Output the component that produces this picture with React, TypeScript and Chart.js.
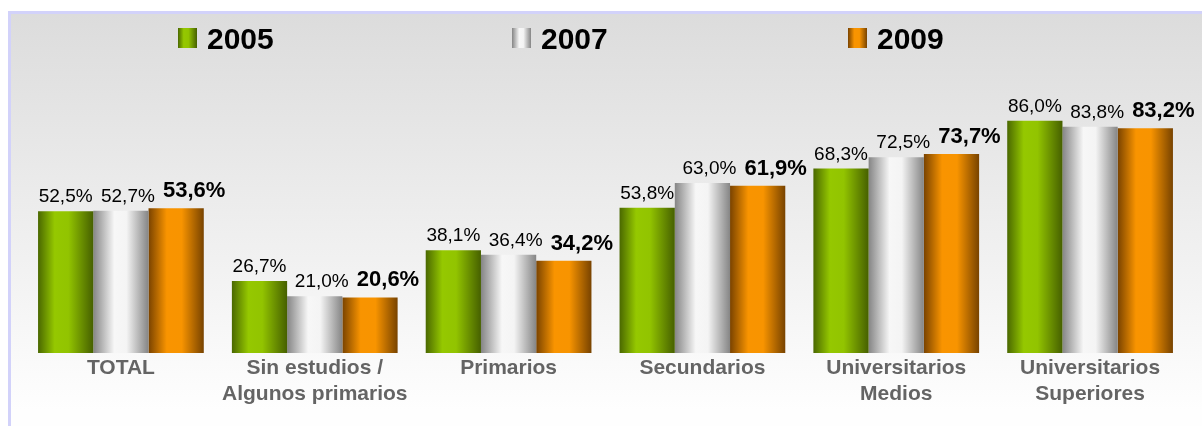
import React, { useEffect, useRef } from "react";
import { Chart, registerables } from "chart.js";

Chart.register(...registerables);

const categories: (string | string[])[] = [
  "TOTAL",
  ["Sin estudios /", "Algunos primarios"],
  "Primarios",
  "Secundarios",
  ["Universitarios", "Medios"],
  ["Universitarios", "Superiores"],
];
const seriesNames = ["2005", "2007", "2009"];
const values2005 = [52.5, 26.7, 38.1, 53.8, 68.3, 86.0];
const values2007 = [52.7, 21.0, 36.4, 63.0, 72.5, 83.8];
const values2009 = [53.6, 20.6, 34.2, 61.9, 73.7, 83.2];

const FONT = "Arial, 'Liberation Sans', sans-serif";
const CAT_PCT = 0.855;

// gradient stops [position, color] per series
const GRADS: [number, string][][] = [
  [[0, "#4a6800"], [0.3, "#95c800"], [0.55, "#92c400"], [1, "#466000"]],
  [[0, "#858585"], [0.38, "#f7f7f7"], [0.6, "#f4f4f4"], [1, "#858585"]],
  [[0, "#7a4300"], [0.33, "#f99400"], [0.6, "#f89400"], [1, "#784300"]],
];
const SOLID = ["#88bb00", "#dddddd", "#f09000"];

function makeGrad(ctx: CanvasRenderingContext2D, i: number, x0: number, x1: number) {
  const g = ctx.createLinearGradient(x0, 0, x1, 0);
  GRADS[i].forEach(([p, c]) => g.addColorStop(p, c));
  return g;
}

const barBg = (i: number) => (c: any) => {
  const chart = c.chart;
  const xs = chart.scales?.x;
  if (!xs || !chart.chartArea || c.type !== "data") return SOLID[i];
  const catW = xs.width / categories.length;
  const slot = (catW * CAT_PCT) / 3;
  const left = xs.getPixelForValue(c.dataIndex) - (catW * CAT_PCT) / 2 + i * slot;
  return makeGrad(chart.ctx, i, left, left + slot);
};

const fmt = (v: number) => v.toFixed(1).replace(".", ",") + "%";

const framePlugin = {
  id: "frame",
  beforeDraw(chart: any) {
    const { ctx, width, height } = chart;
    ctx.save();
    ctx.fillStyle = "#ffffff";
    ctx.fillRect(0, 0, width, height);
    ctx.fillStyle = "#d2d2fa";
    ctx.fillRect(8, 11, width - 8, height - 11);
    const g = ctx.createLinearGradient(0, 14, 0, 410);
    g.addColorStop(0, "#dcdcdc");
    g.addColorStop(1, "#fefefe");
    ctx.fillStyle = g;
    ctx.fillRect(11, 14, width - 11, height - 14);
    ctx.restore();
  },
};

const LEGEND_X = [178, 512, 848];
const legendPlugin = {
  id: "customLegend",
  afterDraw(chart: any) {
    const { ctx } = chart;
    ctx.save();
    seriesNames.forEach((name, i) => {
      const x = LEGEND_X[i];
      ctx.fillStyle = makeGrad(ctx, i, x, x + 19);
      ctx.fillRect(x, 28, 19, 20);
      ctx.fillStyle = "#000000";
      ctx.font = `bold 30px ${FONT}`;
      ctx.textBaseline = "alphabetic";
      ctx.textAlign = "left";
      ctx.fillText(name, x + 29, 49);
    });
    ctx.restore();
  },
};

const LABEL_DX = [0, 7, 18];
const valueLabelPlugin = {
  id: "valueLabels",
  afterDatasetsDraw(chart: any) {
    const { ctx } = chart;
    ctx.save();
    chart.data.datasets.forEach((ds: any, i: number) => {
      const meta = chart.getDatasetMeta(i);
      meta.data.forEach((el: any, j: number) => {
        const bold = i === 2;
        ctx.font = bold ? `bold 22px ${FONT}` : `19px ${FONT}`;
        ctx.fillStyle = "#000000";
        ctx.textAlign = "center";
        ctx.textBaseline = "alphabetic";
        ctx.fillText(fmt(ds.data[j]), el.x + LABEL_DX[i], el.y - (bold ? 11 : 9));
      });
    });
    ctx.restore();
  },
};

export default function App() {
  const ref = useRef<HTMLCanvasElement>(null);
  useEffect(() => {
    if (!ref.current) return;
    const series = [values2005, values2007, values2009];
    const chart = new Chart(ref.current, {
      type: "bar",
      data: {
        labels: categories,
        datasets: series.map((d, i) => ({
          label: seriesNames[i],
          data: d,
          backgroundColor: barBg(i),
          borderWidth: 0,
          barPercentage: 1,
          categoryPercentage: CAT_PCT,
        })),
      },
      options: {
        animation: false,
        responsive: true,
        maintainAspectRatio: false,
        layout: { padding: { left: 24, right: 15, top: 83, bottom: 20 } },
        plugins: { legend: { display: false }, tooltip: { enabled: false } },
        scales: {
          x: {
            grid: { display: false, drawTicks: false },
            border: { display: false },
            afterFit: (scale: any) => {
              scale.height = 53;
            },
            ticks: {
              color: "#646464",
              font: { family: FONT, size: 21, weight: "bold", lineHeight: 1.24 },
              padding: 2,
              maxRotation: 0,
              autoSkip: false,
            },
          },
          y: { display: false, min: 0, max: 100 },
        },
      },
      plugins: [framePlugin, legendPlugin, valueLabelPlugin],
    });
    return () => chart.destroy();
  }, []);
  return (
    <div style={{ position: "fixed", left: 0, top: 0, width: 1202, height: 426 }}>
      <canvas ref={ref} />
    </div>
  );
}
